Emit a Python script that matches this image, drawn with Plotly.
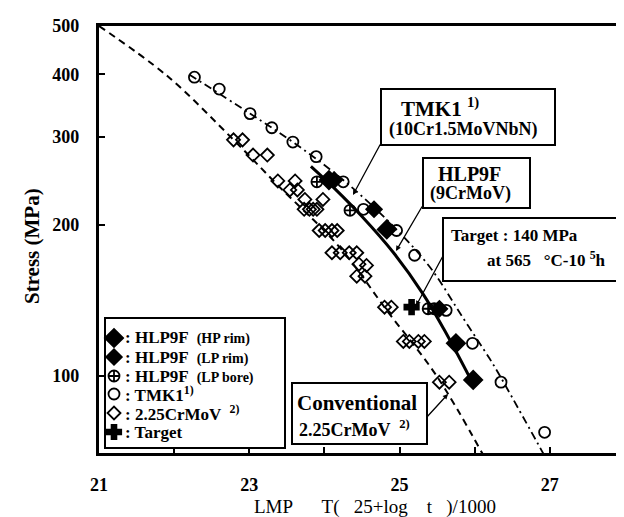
import numpy as np
import plotly.graph_objects as go

# ---------------- data ----------------
# 2.25CrMoV (conventional) open diamonds
crmov_x = [22.79, 22.91, 23.05, 23.24, 23.38, 23.61, 23.54, 23.64, 23.74, 23.98,
           23.73, 23.80, 23.85, 23.90, 23.93, 24.01, 24.10, 24.17, 24.10, 24.21,
           24.33, 24.43, 24.46, 24.56, 24.43, 24.54, 24.80, 24.89, 25.05, 25.13,
           25.25, 25.33, 25.53, 25.66]
crmov_y = [296, 296, 276, 276, 245, 245, 235, 235, 225, 225,
           215, 215, 215, 215, 195, 195, 195, 195, 176, 176,
           176, 176, 167, 166, 158, 158, 137, 137, 117, 117,
           117, 117, 97, 97]

# TMK1 open circles
tmk_x = [22.27, 22.60, 23.01, 23.30, 23.58, 23.89, 24.25, 24.52, 24.96, 25.20,
         25.62, 25.97, 26.35, 26.93]
tmk_y = [395, 374, 334, 313, 293, 274, 244, 215, 195, 174, 135, 116, 97, 77]

# HLP9F
hp_rim_x = [24.06, 24.83, 25.75, 25.98]
hp_rim_y = [246, 196, 116, 98]
lp_rim_x = [24.13, 24.66, 25.53]
lp_rim_y = [246, 215, 136]
lp_bore_x = [23.90, 24.34, 25.38, 25.46]
lp_bore_y = [244, 214, 136, 136]

# Target point
target_x = [25.16]
target_y = [137]

# Master curves
conv_line_x = [21.0, 21.91, 22.80, 23.37, 24.21, 24.83, 25.49, 26.11]
conv_line_y = [500, 397, 295, 241, 180, 135, 100, 69.5]
tmk_line_x = [22.2, 23.01, 23.58, 24.25, 24.9, 25.4, 25.85, 26.2, 26.35, 26.92]
tmk_line_y = [400, 334, 293, 246, 200, 165, 130, 108, 99, 69.5]
hlp_line_x = [23.82, 24.13, 24.5, 24.92, 25.32, 25.6, 25.95]
hlp_line_y = [262, 237, 208, 176, 145, 123, 98]

x_ticks = [21, 22, 23, 24, 25, 26, 27]
x_tick_text = ["21", "", "23", "", "25", "", "27"]
y_ticks = [100, 200, 300, 400, 500]
y_tick_text = ["100", "200", "300", "400", "500"]

legend_labels = [
    "<b>: HLP9F \u00a0<span style='font-size:14px'>(HP rim)</span></b>",
    "<b>: HLP9F \u00a0<span style='font-size:14px'>(LP rim)</span></b>",
    "<b>: HLP9F \u00a0<span style='font-size:14px'>(LP bore)</span></b>",
    "<b>: TMK1<sup>1)</sup></b>",
    "<b>: 2.25CrMoV \u00a0<sup>2)</sup></b>",
    "<b>: Target</b>",
]
legend_symbols = ["diamond", "diamond", "circle-cross-open", "circle-open", "diamond-open", "cross"]
legend_sizes = [14, 12, 11, 11, 10, 12]

# ---------------- layout helpers (pixel -> paper) ----------------
W, H = 624, 517
L, R, T, B = 91, 617, 18, 445


def pxx(x):
    return (x - L) / (R - L)


def pxy(y):
    return (B - y) / (B - T)


SERIF = "Liberation Serif, Times New Roman, serif"
NB = "\u00a0"

fig = go.Figure()

# lines
fig.add_trace(go.Scatter(x=conv_line_x, y=conv_line_y, mode="lines",
                         line=dict(color="black", width=2, dash="7px,5px", shape="spline"),
                         showlegend=False, hoverinfo="skip"))
fig.add_trace(go.Scatter(x=tmk_line_x, y=tmk_line_y, mode="lines",
                         line=dict(color="black", width=1.8, dash="8px,4px,2px,4px", shape="spline"),
                         showlegend=False, hoverinfo="skip"))
fig.add_trace(go.Scatter(x=hlp_line_x, y=hlp_line_y, mode="lines",
                         line=dict(color="black", width=3, shape="spline"),
                         showlegend=False, hoverinfo="skip"))

# markers
series = [
    (hp_rim_x, hp_rim_y), (lp_rim_x, lp_rim_y), (lp_bore_x, lp_bore_y),
    (tmk_x, tmk_y), (crmov_x, crmov_y), (target_x, target_y),
]
for (sx, sy), sym, size in zip(series, legend_symbols, legend_sizes):
    fig.add_trace(go.Scatter(x=sx, y=sy, mode="markers", showlegend=False,
                             marker=dict(symbol=sym, size=size, color="black",
                                         line=dict(width=1.8, color="black"))))

# ---------------- boxes & annotations ----------------
shapes = []
annotations = []


def box(x0, y0, x1, y1, layer="above"):
    shapes.append(dict(type="rect", xref="paper", yref="paper",
                       x0=pxx(x0), x1=pxx(x1), y0=pxy(y1), y1=pxy(y0),
                       line=dict(color="black", width=2), fillcolor="white", layer=layer))


def text(x, y, s, size, anchor="center", angle=0):
    annotations.append(dict(xref="paper", yref="paper", x=pxx(x), y=pxy(y), text=s,
                            showarrow=False, xanchor=anchor, yanchor="middle", textangle=angle,
                            font=dict(family=SERIF, size=size, color="black")))


def leader(tx, ty, hx, hy):
    annotations.append(dict(xref="paper", yref="paper", x=pxx(hx), y=pxy(hy), text="",
                            showarrow=True, ax=tx - hx, ay=ty - hy, arrowhead=2,
                            arrowsize=0.8, arrowwidth=1.3, arrowcolor="black", standoff=0))


# TMK1 box
box(373, 81, 547, 137)
text(432, 99, "<b>TMK1 <sup>1)</sup></b>", 21)
text(455, 121, "<b>(10Cr1.5MoVNbN)</b>", 18)
leader(373, 135, 345, 187)

# HLP9F box
box(415, 150, 522, 200)
text(461, 166, "<b>HLP9F</b>", 20)
text(462, 185, "<b>(9CrMoV)</b>", 18)
leader(415, 197, 388, 243)

# Target box
box(435, 210, 615, 273)
text(441, 227, "<b>Target : 140 MPa</b>", 17, "left")
text(477, 251, "<b>at 565 " + NB * 2 + "°C-10 <sup>5</sup>h</b>", 17, "left")
leader(436, 246, 408, 298)

# Conventional box
box(284, 375, 419, 436)
text(349, 395, "<b>Conventional</b>", 21)
text(346, 420, "<b>2.25CrMoV " + NB + "<sup>2)</sup></b>", 18)
leader(418, 410, 440, 386)

# custom legend box
box(97, 310, 277, 440, layer="below")
row_y = [330, 349, 368, 386, 405, 424]
leg_px = pxx(106)
for lbl, sym, size, ry in zip(legend_labels, legend_symbols, legend_sizes, row_y):
    fig.add_trace(go.Scatter(x=[leg_px], y=[pxy(ry)], xaxis="x2", yaxis="y2", mode="markers",
                             showlegend=False, hoverinfo="skip",
                             marker=dict(symbol=sym, size=size, color="black",
                                         line=dict(width=1.8, color="black"))))
    text(115, ry, lbl, 17, "left")

# axis titles
text(24, 238, "<b>Stress (MPa)</b>", 21, angle=-90)
text(244, 499,
     "LMP" + NB * 6 + "T(" + NB * 3 + "25+log" + NB * 4 + "t" + NB * 3 + ")/1000", 19, "left")

fig.update_layout(
    width=W, height=H,
    margin=dict(l=L, r=W - R, t=T, b=H - B, autoexpand=False),
    paper_bgcolor="white", plot_bgcolor="white",
    font=dict(family=SERIF, color="black"),
    shapes=shapes, annotations=annotations, showlegend=False,
    xaxis=dict(range=[21, 28], tickvals=x_ticks,
               ticktext=[f"<b>{t}</b>" for t in x_tick_text],
               ticks="inside", ticklen=6, tickwidth=2, tickcolor="black",
               showline=True, linewidth=2.5, linecolor="black", mirror=True,
               showgrid=False, zeroline=False, ticklabelstandoff=14, automargin=False,
               tickfont=dict(family=SERIF, size=18, color="black")),
    yaxis=dict(type="log", range=[np.log10(70), np.log10(500)], tickvals=y_ticks,
               ticktext=[f"<b>{t}</b>" + NB * 3 for t in y_tick_text],
               ticks="inside", ticklen=6, tickwidth=2, tickcolor="black",
               showline=True, linewidth=2.5, linecolor="black", mirror=True,
               showgrid=False, zeroline=False, automargin=False,
               tickfont=dict(family=SERIF, size=18, color="black")),
    xaxis2=dict(overlaying="x", range=[0, 1], visible=False, fixedrange=True),
    yaxis2=dict(overlaying="y", range=[0, 1], visible=False, fixedrange=True),
)

fig.write_html("out.html")
